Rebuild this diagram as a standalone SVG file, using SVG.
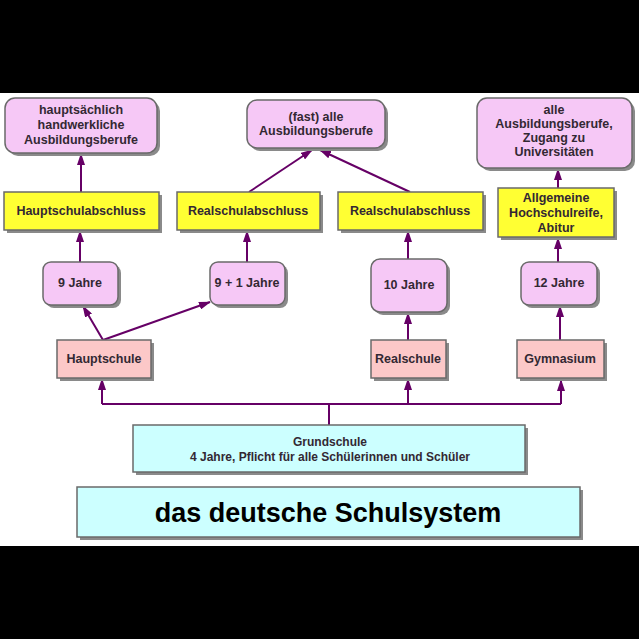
<svg xmlns="http://www.w3.org/2000/svg" width="639" height="639" viewBox="0 0 639 639">
<defs>
<marker id="ah" viewBox="0 0 12 8" refX="11" refY="4" markerWidth="12" markerHeight="8" markerUnits="userSpaceOnUse" orient="auto">
<path d="M0,0 L12,4 L0,8 Z" fill="#660066"/>
</marker>
</defs>
<style>
.box{stroke:#6a6a6a;stroke-width:1.5}
.sh{fill:#8a8a8a}
.pk{fill:#f6c8f6}
.sa{fill:#fcc8c8}
.ye{fill:#ffff33}
.cy{fill:#ccffff}
text{font-family:"Liberation Sans",Arial,sans-serif;font-weight:bold;font-size:12.5px;fill:#332833;text-anchor:middle;dominant-baseline:central}
.sm{font-size:12px}
.title{font-size:27px;fill:#000}
.c{stroke:#660066;stroke-width:2;fill:none}
.a{marker-end:url(#ah)}
</style>
<rect x="0" y="0" width="639" height="639" fill="#000"/>
<rect x="0" y="93" width="639" height="453" fill="#fff"/>

<g id="connectors">
<line class="c a" x1="81" y1="192" x2="81" y2="154"/>
<line class="c a" x1="80" y1="262" x2="80" y2="231"/>
<line class="c a" x1="103" y1="340" x2="83" y2="306"/>
<line class="c a" x1="103" y1="340" x2="210" y2="302"/>
<line class="c a" x1="247" y1="262" x2="247" y2="231"/>
<line class="c a" x1="249" y1="192" x2="312" y2="150"/>
<line class="c a" x1="410" y1="192" x2="320" y2="150"/>
<line class="c a" x1="408" y1="259" x2="408" y2="231"/>
<line class="c a" x1="408" y1="340" x2="408" y2="313"/>
<line class="c a" x1="558" y1="262" x2="558" y2="238"/>
<line class="c a" x1="558" y1="188" x2="558" y2="169"/>
<line class="c a" x1="560" y1="340" x2="560" y2="306"/>
<polyline class="c" points="329,425 329,404"/>
<polyline class="c" points="102,404 561,404"/>
<line class="c a" x1="102" y1="404" x2="102" y2="379"/>
<line class="c a" x1="408" y1="404" x2="408" y2="379"/>
<line class="c a" x1="561" y1="404" x2="561" y2="380"/>
</g>

<g id="n-handwerk">
<rect class="sh" x="8" y="101" width="152" height="55" rx="10"/>
<rect class="box pk" x="5" y="98" width="152" height="55" rx="10"/>
<text x="81" y="110">hauptsächlich</text>
<text x="81" y="125">handwerkliche</text>
<text x="81" y="140">Ausbildungsberufe</text>
</g>
<g id="n-fastalle">
<rect class="sh" x="250" y="103" width="138" height="48" rx="10"/>
<rect class="box pk" x="247" y="100" width="138" height="48" rx="10"/>
<text x="316" y="117">(fast) alle</text>
<text x="316" y="131">Ausbildungsberufe</text>
</g>
<g id="n-alle">
<rect class="sh" x="480" y="101" width="155" height="70" rx="10"/>
<rect class="box pk" x="477" y="98" width="155" height="70" rx="10"/>
<text x="554" y="110">alle</text>
<text x="554" y="124">Ausbildungsberufe,</text>
<text x="554" y="138">Zugang zu</text>
<text x="554" y="152">Universitäten</text>
</g>

<g id="n-hsa">
<rect class="sh" x="7" y="195" width="155" height="38"/>
<rect class="box ye" x="4" y="192" width="155" height="38"/>
<text x="81" y="211">Hauptschulabschluss</text>
</g>
<g id="n-rsa1">
<rect class="sh" x="180" y="195" width="143" height="38"/>
<rect class="box ye" x="177" y="192" width="143" height="38"/>
<text x="248" y="211">Realschulabschluss</text>
</g>
<g id="n-rsa2">
<rect class="sh" x="341" y="195" width="145" height="38"/>
<rect class="box ye" x="338" y="192" width="145" height="38"/>
<text x="410" y="211">Realschulabschluss</text>
</g>
<g id="n-abitur">
<rect class="sh" x="501" y="191" width="116" height="49"/>
<rect class="box ye" x="498" y="188" width="116" height="49"/>
<text x="556" y="198">Allgemeine</text>
<text x="556" y="213">Hochschulreife,</text>
<text x="556" y="228">Abitur</text>
</g>

<g id="n-9j">
<rect class="sh" x="46" y="265" width="75" height="43" rx="8"/>
<rect class="box pk" x="43" y="262" width="75" height="43" rx="8"/>
<text x="80" y="283">9 Jahre</text>
</g>
<g id="n-91j">
<rect class="sh" x="213" y="265" width="75" height="43" rx="8"/>
<rect class="box pk" x="210" y="262" width="75" height="43" rx="8"/>
<text x="247" y="283">9 + 1 Jahre</text>
</g>
<g id="n-10j">
<rect class="sh" x="374" y="262" width="76" height="53" rx="9"/>
<rect class="box pk" x="371" y="259" width="76" height="53" rx="9"/>
<text x="409" y="285">10 Jahre</text>
</g>
<g id="n-12j">
<rect class="sh" x="524" y="265" width="76" height="43" rx="8"/>
<rect class="box pk" x="521" y="262" width="76" height="43" rx="8"/>
<text x="559" y="283">12 Jahre</text>
</g>

<g id="n-hauptschule">
<rect class="sh" x="60" y="343" width="94" height="38"/>
<rect class="box sa" x="57" y="340" width="94" height="38"/>
<text x="104" y="359">Hauptschule</text>
</g>
<g id="n-realschule">
<rect class="sh" x="374" y="343" width="75" height="38"/>
<rect class="box sa" x="371" y="340" width="75" height="38"/>
<text x="408" y="359">Realschule</text>
</g>
<g id="n-gymnasium">
<rect class="sh" x="520" y="343" width="87" height="38"/>
<rect class="box sa" x="517" y="340" width="87" height="38"/>
<text x="560" y="359">Gymnasium</text>
</g>

<g id="n-grundschule">
<rect class="sh" x="136" y="428" width="392" height="47"/>
<rect class="box cy" x="133" y="425" width="392" height="47"/>
<text class="sm" x="330" y="442">Grundschule</text>
<text class="sm" x="330" y="457">4 Jahre, Pflicht für alle Schülerinnen und Schüler</text>
</g>

<g id="n-title">
<rect class="sh" x="80" y="490" width="503" height="50"/>
<rect class="box cy" x="77" y="487" width="503" height="50"/>
<text class="title" x="328" y="513">das deutsche Schulsystem</text>
</g>
</svg>
